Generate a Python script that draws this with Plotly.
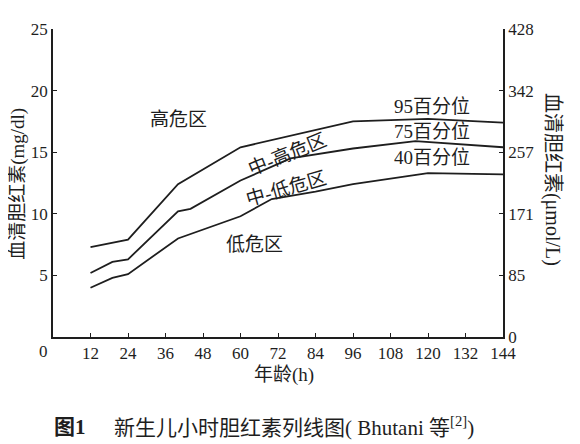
import plotly.graph_objects as go

# hour-specific bilirubin nomogram (Bhutani)
p95_h = [12, 24, 40, 60, 96, 120, 144]
p95_v = [7.3, 7.9, 12.4, 15.4, 17.5, 17.7, 17.4]

p75_h = [12, 19, 24, 40, 44, 60, 76, 96, 116, 144]
p75_v = [5.2, 6.1, 6.3, 10.2, 10.4, 12.7, 14.5, 15.3, 15.9, 15.4]

p40_h = [12, 19, 24, 40, 60, 70, 84, 96, 120, 144]
p40_v = [4.0, 4.8, 5.1, 8.0, 9.8, 11.2, 11.8, 12.4, 13.3, 13.2]

x_ticks = [12, 24, 36, 48, 60, 72, 84, 96, 108, 120, 132, 144]
y_ticks = [5, 10, 15, 20, 25]
umol_vals = [0, 85.5, 171, 256.5, 342, 427.5]
umol_text = ["0", "85", "171", "257", "342", "428"]

FONT = "Liberation Serif, Noto Sans CJK SC, serif"
INK = "#1e1e1e"

fig = go.Figure()
for h, v in [(p95_h, p95_v), (p75_h, p75_v), (p40_h, p40_v)]:
    fig.add_trace(go.Scatter(x=h, y=v, mode="lines",
                             line=dict(color=INK, width=1.8), showlegend=False))
# invisible trace to carry the right-hand umol/L axis
fig.add_trace(go.Scatter(x=[0], y=[0], yaxis="y2", mode="markers",
                         marker=dict(opacity=0), showlegend=False, hoverinfo="skip"))


def label(text, x, y, ref="data", size=19, angle=0, anchor="center"):
    return dict(x=x, y=y, xref="x" if ref == "data" else "paper",
                yref="y" if ref == "data" else "paper", text=text, showarrow=False,
                textangle=angle, xanchor=anchor, yanchor="middle",
                font=dict(size=size, color=INK, family=FONT))


annotations = [
    label("高危区", 40.2, 17.65),
    label("中-高危区", 74.8, 14.85, angle=-22),
    label("中-低危区", 74.6, 12.05, angle=-16),
    label("低危区", 64.6, 7.5),
    label("95百分位", 121.2, 18.75),
    label("75百分位", 121.2, 16.7),
    label("40百分位", 121.2, 14.55),
    label("0", -0.022, -0.047, ref="paper", size=17),
    label("年龄(h)", 0.513, -0.122, ref="paper"),
    label("血清胆红素(mg/dl)", -0.078, 0.497, ref="paper", angle=-90),
    label("血清胆红素(μmol/L)", 1.109, 0.513, ref="paper", size=20, angle=90),
    label("<b>图1</b>", 0.038, -0.292, ref="paper", size=21),
    label("新生儿小时胆红素列线图( Bhutani 等<sup>[2]</sup>)", 0.131, -0.292,
          ref="paper", size=21, anchor="left"),
]

axis_common = dict(showline=True, linecolor=INK, linewidth=1.6, showgrid=False,
                   zeroline=False, ticks="inside", ticklen=4, tickcolor=INK,
                   tickfont=dict(size=17, color=INK, family=FONT))

# page body has an 8px default margin, so the figure is 8px smaller
fig.update_layout(
    width=572, height=436,
    margin=dict(l=45, r=77, t=17, b=107),
    paper_bgcolor="white", plot_bgcolor="white",
    xaxis=dict(range=[0, 144], tickvals=x_ticks, **axis_common),
    yaxis=dict(range=[0, 25], tickvals=y_ticks, **axis_common),
    yaxis2=dict(range=[0, 427.5], tickvals=umol_vals, ticktext=umol_text,
                overlaying="y", side="right", **axis_common),
    annotations=annotations,
)

fig.write_html("out.html")
